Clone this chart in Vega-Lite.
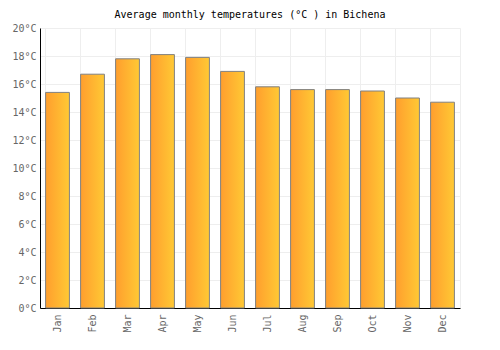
{
  "$schema": "https://vega.github.io/schema/vega-lite/v6.json",
  "autosize": {"type": "none"},
  "padding": {"left": 40, "top": 28, "right": 40, "bottom": 42},
  "width": 420,
  "height": 280,
  "title": {"text": "Average monthly temperatures (°C ) in Bichena", "font": "DejaVu Sans Mono", "fontSize": 10, "fontWeight": "normal", "color": "#000000", "anchor": "middle", "offset": 3},
  "config": {"view": {"stroke": "#eeeeee"}},
  "data": {"values": [
    {"month": "Jan", "temp": 15.4},
    {"month": "Feb", "temp": 16.7},
    {"month": "Mar", "temp": 17.8},
    {"month": "Apr", "temp": 18.1},
    {"month": "May", "temp": 17.9},
    {"month": "Jun", "temp": 16.9},
    {"month": "Jul", "temp": 15.8},
    {"month": "Aug", "temp": 15.6},
    {"month": "Sep", "temp": 15.6},
    {"month": "Oct", "temp": 15.5},
    {"month": "Nov", "temp": 15.0},
    {"month": "Dec", "temp": 14.7}
  ]},
  "mark": {
    "type": "bar",
    "stroke": "#808080",
    "strokeWidth": 1,
    "fill": {"gradient": "linear", "x1": 0, "x2": 1, "y1": 0, "y2": 0, "stops": [{"offset": 0, "color": "#FF9E2E"}, {"offset": 1, "color": "#FFC934"}]}
  },
  "encoding": {
    "x": {
      "field": "month", "type": "nominal", "sort": null,
      "scale": {"paddingInner": 0.32, "paddingOuter": 0.16},
      "axis": {"title": null, "labelAngle": -90, "labelFont": "DejaVu Sans Mono", "labelFontSize": 10, "labelColor": "#666666", "ticks": false, "labelPadding": 6, "domainColor": "#000000", "grid": true, "gridColor": "#eeeeee", "bandPosition": 0}
    },
    "y": {
      "field": "temp", "type": "quantitative",
      "scale": {"domain": [0, 20]},
      "axis": {"title": null, "values": [0, 2, 4, 6, 8, 10, 12, 14, 16, 18, 20], "labelOverlap": false, "labelExpr": "datum.value + '°C'", "labelFont": "DejaVu Sans Mono", "labelFontSize": 10, "labelColor": "#666666", "ticks": false, "labelPadding": 4, "domainColor": "#000000", "gridColor": "#eeeeee"}
    }
  }
}
